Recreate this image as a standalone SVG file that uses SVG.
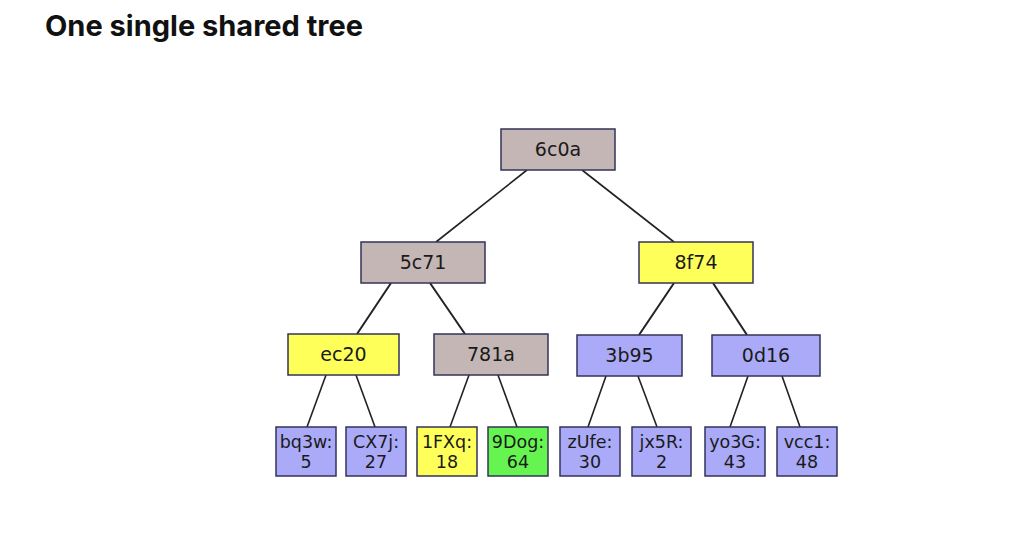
<svg xmlns="http://www.w3.org/2000/svg" width="1024" height="539" viewBox="0 0 1024 539">
<style>
.title{font-family:Inter,"Liberation Sans",sans-serif;font-weight:700;font-size:29px;fill:#111}
.n rect{stroke:#33335a;stroke-width:1.5}
.n text{font-family:"DejaVu Sans",sans-serif;fill:#1a1a1a;text-anchor:middle}
.big text{font-size:19px}
.leaf text{font-size:17.5px}
.g rect{fill:#c3b6b5}
.y rect{fill:#ffff5a}
.b rect{fill:#aaaaf8}
.gr rect{fill:#66f550}
#edges line{stroke:#222;stroke-width:1.6}
</style>
<rect width="1024" height="539" fill="#fff"/>
<text class="title" x="45" y="36">One single shared tree</text>
<g id="edges">
<line x1="527" y1="170" x2="436" y2="242"/>
<line x1="582" y1="170" x2="674" y2="242"/>
<line x1="391" y1="283" x2="357" y2="334" style="stroke-width:2"/>
<line x1="430" y1="283" x2="465" y2="334" style="stroke-width:2"/>
<line x1="674" y1="283" x2="639" y2="335" style="stroke-width:2"/>
<line x1="713" y1="283" x2="747" y2="335" style="stroke-width:2"/>
<line x1="326" y1="375" x2="307" y2="427"/>
<line x1="356" y1="375" x2="375" y2="427"/>
<line x1="469" y1="375" x2="450" y2="427"/>
<line x1="498" y1="375" x2="517" y2="427"/>
<line x1="606" y1="376" x2="588" y2="427"/>
<line x1="638" y1="376" x2="657" y2="427"/>
<line x1="748" y1="376" x2="730" y2="427"/>
<line x1="782" y1="376" x2="800" y2="427"/>
</g>
<g id="n6c0a" class="n big g"><rect x="501" y="129" width="114" height="41"/><text x="558" y="156">6c0a</text></g>
<g id="n5c71" class="n big g"><rect x="361" y="242" width="124" height="41"/><text x="423" y="269">5c71</text></g>
<g id="n8f74" class="n big y"><rect x="639" y="242" width="114" height="41"/><text x="696" y="269">8f74</text></g>
<g id="nec20" class="n big y"><rect x="288" y="334" width="111" height="41"/><text x="343.5" y="361">ec20</text></g>
<g id="n781a" class="n big g"><rect x="434" y="334" width="114" height="41"/><text x="491" y="361">781a</text></g>
<g id="n3b95" class="n big b"><rect x="577" y="335" width="105" height="41"/><text x="629.5" y="362">3b95</text></g>
<g id="n0d16" class="n big b"><rect x="712" y="335" width="108" height="41"/><text x="766" y="362">0d16</text></g>
<g id="bq3w" class="n leaf b"><rect x="276" y="427" width="60" height="49"/><text x="306" y="448">bq3w:</text><text x="306" y="468">5</text></g>
<g id="CX7j" class="n leaf b"><rect x="346" y="427" width="60" height="49"/><text x="376" y="448">CX7j:</text><text x="376" y="468">27</text></g>
<g id="1FXq" class="n leaf y"><rect x="417" y="427" width="60" height="49"/><text x="447" y="448">1FXq:</text><text x="447" y="468">18</text></g>
<g id="9Dog" class="n leaf gr"><rect x="488" y="427" width="60" height="49"/><text x="518" y="448">9Dog:</text><text x="518" y="468">64</text></g>
<g id="zUfe" class="n leaf b"><rect x="560" y="427" width="60" height="49"/><text x="590" y="448">zUfe:</text><text x="590" y="468">30</text></g>
<g id="jx5R" class="n leaf b"><rect x="632" y="427" width="59" height="49"/><text x="661.5" y="448">jx5R:</text><text x="661.5" y="468">2</text></g>
<g id="yo3G" class="n leaf b"><rect x="705" y="427" width="60" height="49"/><text x="735" y="448">yo3G:</text><text x="735" y="468">43</text></g>
<g id="vcc1" class="n leaf b"><rect x="777" y="427" width="60" height="49"/><text x="807" y="448">vcc1:</text><text x="807" y="468">48</text></g>
</svg>
